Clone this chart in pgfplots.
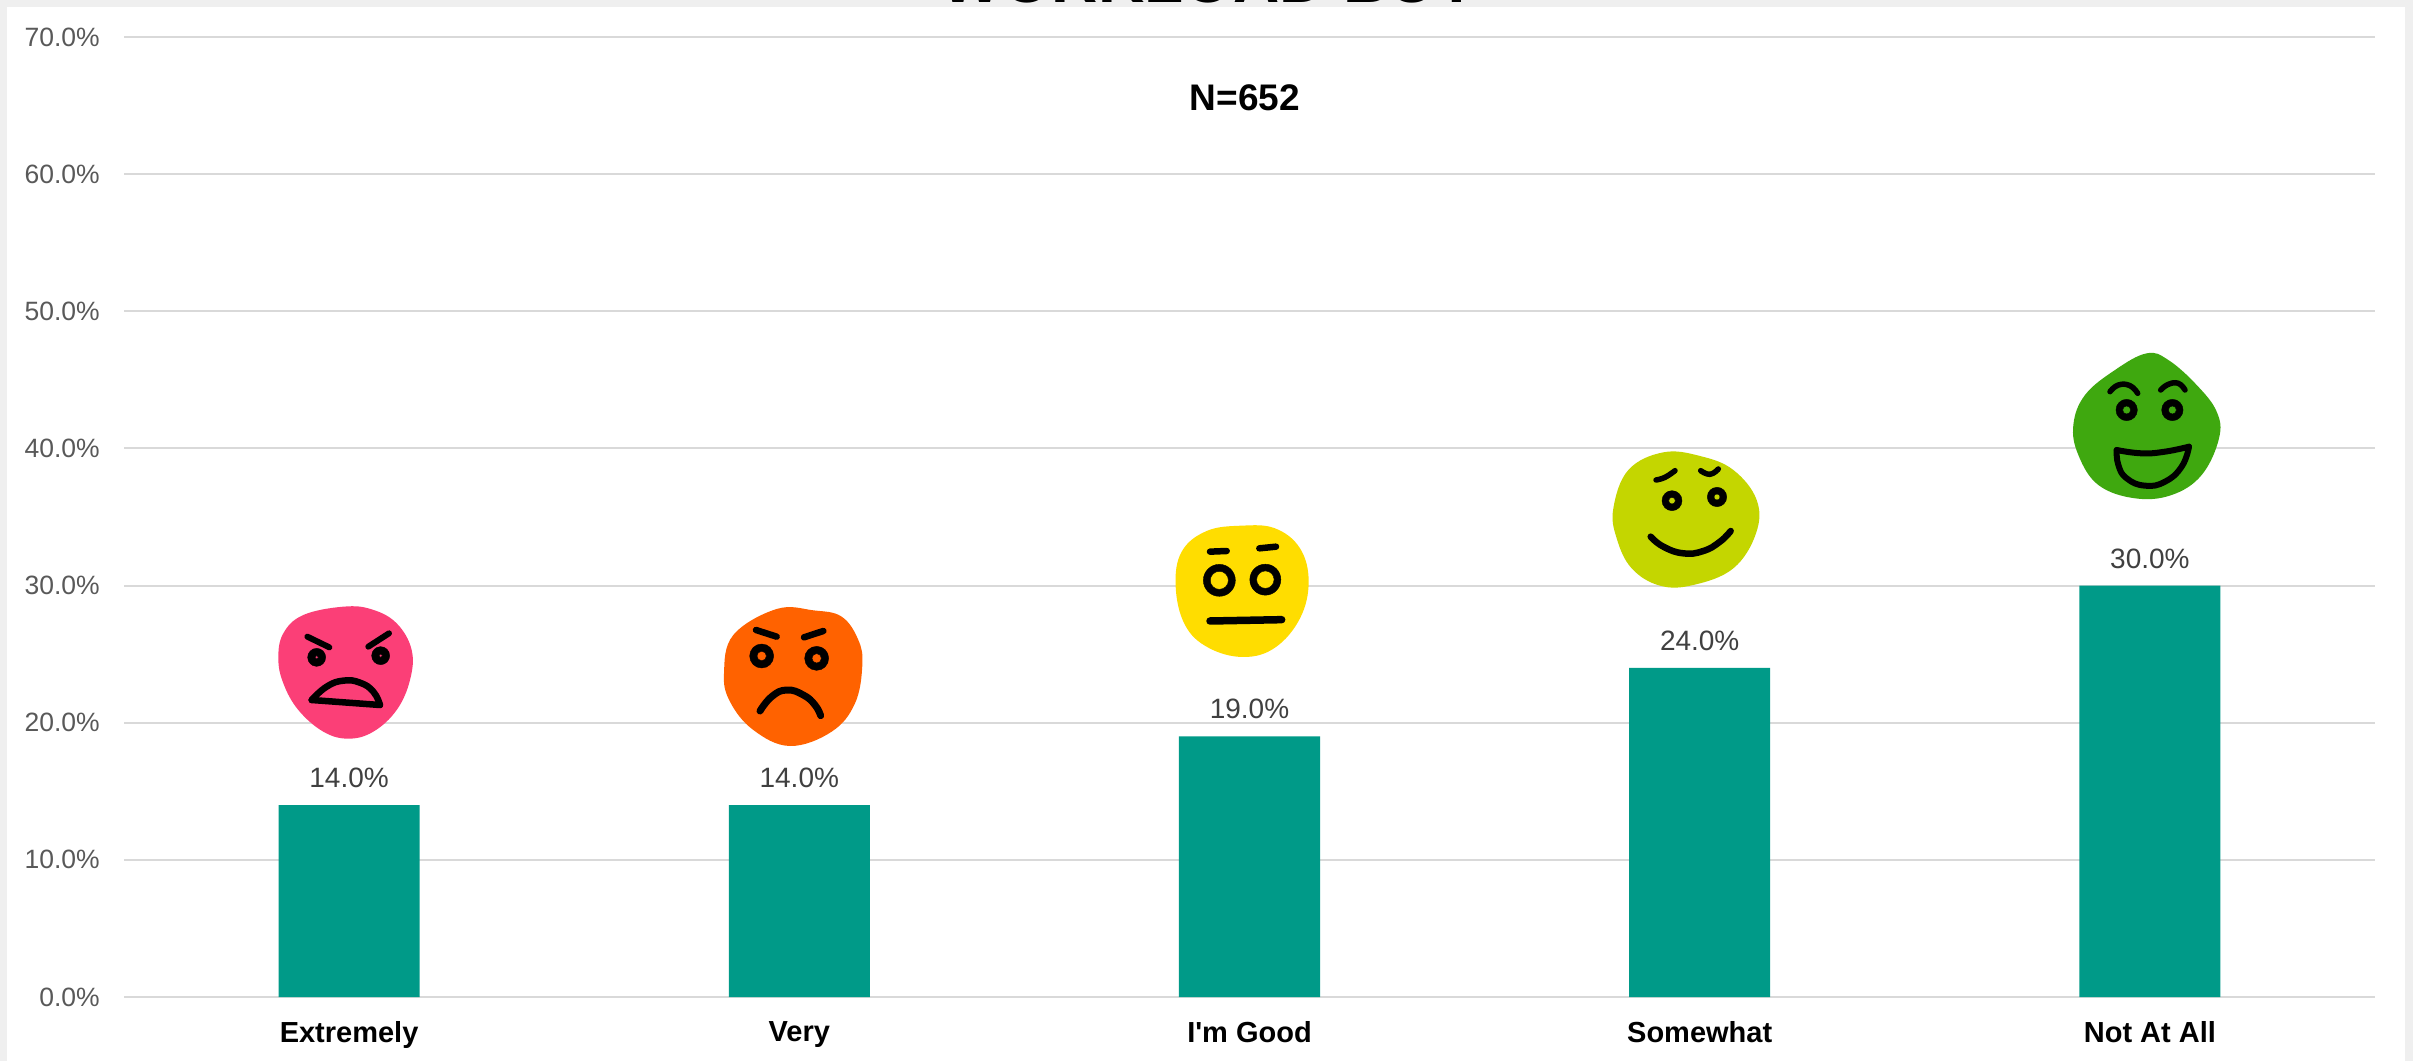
\documentclass[border=0pt]{standalone}
\usepackage{pgfplots}
\pgfplotsset{compat=1.18}
\usepackage{pgfplotstable}
\usepackage{fontspec}
\setmainfont{Liberation Sans}
\definecolor{panelbg}{HTML}{EFEFEF}
\definecolor{gridc}{HTML}{D9D9D9}
\definecolor{barc}{HTML}{009A88}
\definecolor{ticktxt}{HTML}{595959}
\definecolor{datatxt}{HTML}{404040}
\definecolor{pinkf}{HTML}{FB3F77}
\definecolor{orangef}{HTML}{FF6200}
\definecolor{yellowf}{HTML}{FFDD00}
\definecolor{limef}{HTML}{C4D600}
\definecolor{greenf}{HTML}{3FA80F}
\pgfplotstableread{
x y
0 14
1 14
2 19
3 24
4 30
}\shares
\pgfplotsset{
  faceaxis/.style={
    anchor=south west, scale only axis, width=170pt, height=160pt,
    xmin=0, xmax=510, ymin=0, ymax=480, y dir=reverse, hide axis, clip=false},
  ink/.style={draw=black, line width=#1, line cap=round, line join=round, no marks, tension=0.8},
  blob/.style={fill=#1, draw=none, smooth cycle, tension=0.65, no marks}
}
% eye: x, y, outer radius (pt), inner radius (pt), face colour, vertical stretch
\newcommand{\eye}[6]{%
  \addplot[only marks, mark=*, mark size=#3pt, mark options={draw=none, fill=black, yscale=#6}] coordinates {(#1,#2)};
  \addplot[only marks, mark=*, mark size=#4pt, mark options={draw=none, fill=#5, yscale=#6}] coordinates {(#1,#2)};
}
\begin{document}
\begin{tikzpicture}[x=1pt,y=1pt]
\useasboundingbox (0,0) rectangle (2413,1061);
\fill[panelbg] (0,0) rectangle (2413,1061);
\begin{scope}
\clip (0,0) rectangle (2413,1061);
\node[anchor=base, inner sep=0pt, text=black] at (1210,1058)
  {\fontsize{64}{68}\selectfont\bfseries WORKLOAD BUY};
\end{scope}
\fill[white] (7,0) rectangle (2405,1054);

\begin{axis}[
  at={(124pt,64pt)}, anchor=south west, scale only axis,
  width=2251pt, height=960pt,
  xmin=-0.5, xmax=4.5, ymin=0, ymax=70,
  axis x line=bottom, axis y line=left,
  x axis line style={draw=gridc, line width=2pt, -},
  y axis line style={draw=none, -},
  ytick={0,10,20,30,40,50,60,70},
  yticklabels={0.0\%,10.0\%,20.0\%,30.0\%,40.0\%,50.0\%,60.0\%,70.0\%},
  xtick={0,1,2,3,4},
  xticklabels={Extremely,Very,I\textquotesingle m Good,Somewhat,Not At All},
  major tick length=0pt,
  ymajorgrids, grid style={draw=gridc, line width=2pt},
  yticklabel style={font=\fontsize{26.5}{30}\selectfont, text=ticktxt, inner sep=0pt, xshift=-24pt},
  xticklabel style={font=\fontsize{29}{32}\selectfont\bfseries, text=black, inner sep=0pt, yshift=-24pt},
  /pgf/number format/assume math mode=true,
]
\addplot[ybar, bar width=141pt, fill=barc, draw=none,
  nodes near coords={\pgfmathprintnumber[fixed,fixed zerofill,precision=1]{\pgfplotspointmeta}\%},
  nodes near coords align={above},
  every node near coord/.append style={font=\fontsize{28}{30}\selectfont, text=datatxt, inner sep=0pt, yshift=17pt},
] table[x=x,y=y] {\shares};
\end{axis}

\node[inner sep=0pt, text=black] at (1245,963) {\fontsize{37}{40}\selectfont\bfseries N=652};

% Extremely
\begin{axis}[faceaxis, at={(260pt,311pt)}]
\addplot[blob=pinkf] coordinates {(250,50)(335,58)(410,100)(455,180)(450,270)(410,360)(340,425)(265,446)(190,425)(115,360)(70,280)(55,205)(70,130)(130,75)};
\addplot[ink=6pt] coordinates {(142,140)(208,172)};
\addplot[ink=6pt] coordinates {(325,170)(387,130)};
\eye{170}{202}{9}{1.7}{pinkf}{1}
\eye{362}{197}{9}{1.7}{pinkf}{1}
\addplot[ink=6.5pt, smooth] coordinates {(155,330)(200,290)(250,272)(300,278)(340,305)(360,345)};
\addplot[ink=6.5pt] coordinates {(155,330)(360,345)};
\end{axis}

% Very
\begin{axis}[faceaxis, at={(710pt,306pt)}]
\addplot[blob=orangef] coordinates {(200,42)(310,46)(395,65)(445,135)(457,210)(435,325)(365,410)(240,453)(130,405)(60,320)(42,235)(70,120)};
\addplot[ink=6.5pt] coordinates {(138,105)(200,125)};
\addplot[ink=6.5pt] coordinates {(282,127)(340,108)};
\eye{155}{183}{12}{4.7}{orangef}{1}
\eye{320}{190}{12}{4.7}{orangef}{1}
\addplot[ink=7pt, smooth] coordinates {(150,348)(185,305)(230,285)(280,300)(315,330)(332,362)};
\end{axis}

% I'm Good
\begin{axis}[faceaxis, at={(1160pt,386pt)}]
\addplot[blob=yellowf] coordinates {(245,32)(345,40)(420,100)(446,200)(420,310)(345,398)(250,426)(145,398)(75,330)(47,215)(65,110)(140,48)};
\addplot[ink=6.5pt] coordinates {(150,110)(200,108)};
\addplot[ink=6.5pt] coordinates {(298,100)(348,95)};
\eye{178}{196}{16}{9}{yellowf}{1}
\eye{316}{194}{15.5}{8.7}{yellowf}{1}
\addplot[ink=7.5pt] coordinates {(150,318)(365,314)};
\end{axis}

% Somewhat
\begin{axis}[faceaxis, at={(1600pt,456pt)}]
\addplot[blob=limef] coordinates {(190,22)(300,33)(400,75)(470,165)(468,265)(400,370)(280,420)(180,422)(95,370)(50,280)(40,190)(85,75)};
\addplot[ink=5.5pt, smooth] coordinates {(168,105)(195,97)(225,77)};
\addplot[ink=5.5pt, smooth] coordinates {(302,77)(330,88)(355,72)};
\eye{216}{167}{10}{3.3}{limef}{1}
\eye{351}{156}{9.7}{3}{limef}{1}
\addplot[ink=6.5pt, smooth] coordinates {(152,275)(190,305)(250,325)(310,318)(360,290)(392,258)};
\end{axis}

% Not At All
\begin{axis}[faceaxis, at={(2065pt,556pt)}]
\addplot[blob=greenf] coordinates {(245,25)(310,45)(395,120)(455,200)(462,280)(410,390)(320,450)(210,460)(100,420)(40,330)(25,240)(60,150)(150,75)};
\addplot[ink=5.5pt, smooth] coordinates {(135,140)(160,120)(195,122)(218,145)};
\addplot[ink=5.5pt, smooth] coordinates {(287,135)(310,118)(340,115)(360,135)};
\eye{185}{195}{10.7}{4}{greenf}{1}
\eye{322}{195}{10.7}{4}{greenf}{1}
\addplot[ink=6pt, smooth] coordinates {(155,315)(230,325)(300,320)(372,305)};
\addplot[ink=6pt, smooth] coordinates {(372,305)(350,365)(300,410)(240,422)(185,400)(160,360)(155,315)};
\end{axis}
\end{tikzpicture}
\end{document}
